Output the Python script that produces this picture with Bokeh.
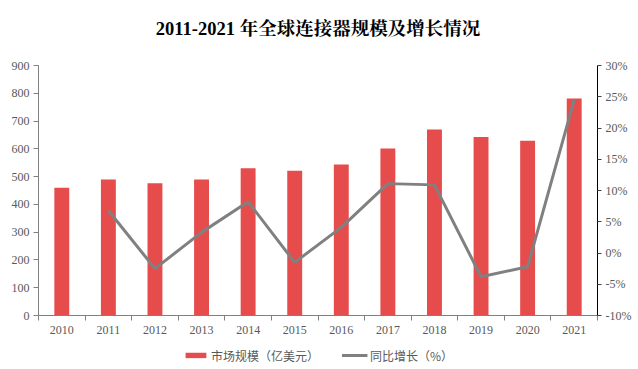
from bokeh.plotting import figure
from bokeh.layouts import column
from bokeh.models import (Range1d, LinearAxis, FixedTicker, PrintfTickFormatter,
                          Legend, LegendItem, Label, ColumnDataSource)
from bokeh.embed import file_html
from bokeh.resources import INLINE

years = ["2010", "2011", "2012", "2013", "2014", "2015", "2016", "2017",
         "2018", "2019", "2020", "2021"]
market_size = [460, 490, 476, 490, 530, 521, 544, 601, 670, 643, 629, 781]
growth_years = years[1:]
growth_pct = [6.8, -2.5, 3.3, 8.2, -1.5, 4.1, 11.1, 10.9, -3.8, -2.2, 24.5]
left_ticks = [0, 100, 200, 300, 400, 500, 600, 700, 800, 900]
right_ticks = [-10, -5, 0, 5, 10, 15, 20, 25, 30]

title_text = "2011-2021 年全球连接器规模及增长情况"
bar_label = "市场规模（亿美元）"
line_label = "同比增长（%）"

xpos = {y: i for i, y in enumerate(years)}
bar_src = ColumnDataSource(dict(x=[xpos[y] for y in years], v=market_size))
line_src = ColumnDataSource(dict(x=[xpos[y] for y in growth_years], v=growth_pct))

TICK_FONT = "'Liberation Serif', 'Times New Roman', serif"
GRAY_TXT = "#595959"
BAR_COLOR = "#E64C4C"
LINE_COLOR = "#808080"
W = 638

# ---- title strip ----
tf = figure(width=W, height=55, x_range=Range1d(0, 1), y_range=Range1d(0, 1),
            output_backend="svg", toolbar_location=None,
            min_border=0, min_border_left=0, min_border_right=0,
            min_border_top=0, min_border_bottom=0)
tf.axis.visible = False
tf.grid.visible = False
tf.outline_line_color = None
tf.add_layout(Label(x=0.5, y=27 / 55, text=title_text, text_align="center",
                    text_baseline="middle",
                    text_font="'Liberation Serif', 'Times New Roman', 'Noto Serif CJK SC', 'Noto Sans CJK SC', serif",
                    text_font_size="18.5px", text_font_style="bold",
                    text_color="#000000"))

# ---- main chart ----
p = figure(width=W, height=285, x_range=Range1d(-0.5, len(years) - 0.5),
           y_range=Range1d(0, 900), output_backend="svg", toolbar_location=None,
           min_border_left=38, min_border_right=41, min_border_top=10,
           min_border_bottom=25)
p.extra_y_ranges = {"pct": Range1d(-10, 30)}
p.outline_line_color = None
p.xgrid.visible = False
p.ygrid.visible = False

p.vbar(x="x", top="v", width=0.32, source=bar_src,
       fill_color=BAR_COLOR, line_color=None)
p.line(x="x", y="v", source=line_src, y_range_name="pct",
       line_color=LINE_COLOR, line_width=3)

xax = p.xaxis[0]
xax.ticker = FixedTicker(ticks=list(range(len(years))),
                         minor_ticks=[i - 0.5 for i in range(len(years) + 1)])
xax.major_label_overrides = {i: y for i, y in enumerate(years)}
xax.major_tick_out = 0
xax.major_tick_in = 0
xax.minor_tick_out = 5
xax.minor_tick_in = 0
xax.minor_tick_line_color = "#808080"
xax.axis_line_color = "#808080"
xax.major_label_text_font = TICK_FONT
xax.major_label_text_font_size = "12px"
xax.major_label_text_color = GRAY_TXT
xax.major_label_standoff = 5

yax = p.yaxis[0]
yax.ticker = FixedTicker(ticks=left_ticks)
yax.axis_line_color = "#808080"
yax.major_tick_line_color = "#808080"
yax.major_tick_out = 5
yax.major_tick_in = 0
yax.minor_tick_out = 0
yax.minor_tick_in = 0
yax.major_label_text_font = TICK_FONT
yax.major_label_text_font_size = "12px"
yax.major_label_text_color = GRAY_TXT
yax.major_label_standoff = 4

rax = LinearAxis(y_range_name="pct", ticker=FixedTicker(ticks=right_ticks),
                 formatter=PrintfTickFormatter(format="%d%%"))
rax.axis_line_color = "#000000"
rax.major_tick_line_color = "#404040"
rax.major_tick_out = 4
rax.major_tick_in = 0
rax.minor_tick_out = 0
rax.minor_tick_in = 0
rax.major_label_text_font = TICK_FONT
rax.major_label_text_font_size = "12px"
rax.major_label_text_color = GRAY_TXT
rax.major_label_standoff = 4
p.add_layout(rax, "right")

# ---- legend strip ----
lf = figure(width=W, height=29, x_range=Range1d(100, 101), y_range=Range1d(5000, 5001),
            output_backend="svg", toolbar_location=None,
            min_border=0, min_border_left=0, min_border_right=0,
            min_border_top=0, min_border_bottom=0)
lf.axis.visible = False
lf.grid.visible = False
lf.outline_line_color = None
lbar = lf.vbar(x="x", top="v", width=0.32, source=bar_src,
               fill_color=BAR_COLOR, line_color=None)
lline = lf.line(x="x", y="v", source=line_src, line_color=LINE_COLOR, line_width=3)
legend = Legend(items=[LegendItem(label=bar_label, renderers=[lbar]),
                       LegendItem(label=line_label, renderers=[lline])],
                orientation="horizontal", location="center",
                border_line_color=None, background_fill_alpha=0,
                label_text_font="'Noto Sans CJK SC', sans-serif",
                label_text_font_size="12px", label_text_color=GRAY_TXT,
                glyph_width=26, glyph_height=7, label_standoff=3, spacing=22,
                padding=0, margin=0)
lf.add_layout(legend, "center")

layout = column(tf, p, lf, spacing=0)
open("out.html", "w").write(file_html(layout, INLINE))
